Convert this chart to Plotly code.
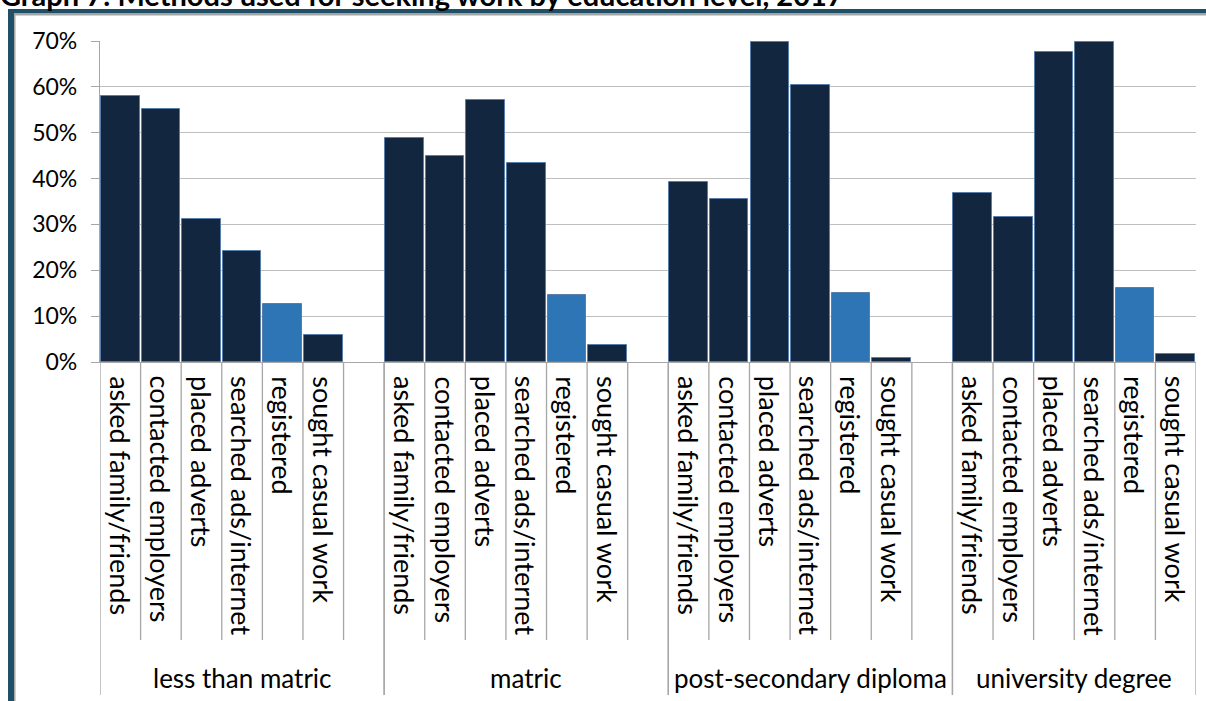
import plotly.graph_objects as go

# ---- data ----
groups = ["less than matric", "matric", "post-secondary diploma", "university degree"]
methods = ["asked family/friends", "contacted employers", "placed adverts",
           "searched ads/internet", "registered", "sought casual work"]
less_than_matric = [57.9, 55.2, 31.2, 24.2, 12.7, 5.9]
matric = [48.8, 44.9, 57.1, 43.4, 14.6, 3.7]
post_secondary = [39.2, 35.5, 69.7, 60.3, 15.0, 0.9]
university = [36.8, 31.6, 67.7, 69.7, 16.1, 1.7]
series = [less_than_matric, matric, post_secondary, university]
y_ticks = [0, 10, 20, 30, 40, 50, 60, 70]
title_text = "Graph 7: Methods used for seeking work by education level, 2017"

# ---- layout constants ----
W, H = 1206, 701
L, R, T, B = 100, 10, 41, 339
PW, PH = W - L - R, H - T - B
NAVY = "#13263F"
BLUE = "#2E75B6"
GRID = "#BFBFBF"
AXIS = "#A6A6A6"
TEAL = "#1F5068"
FONT = "Lato"

def px(x):
    return (x - L) / PW

def py(y):
    return (H - B - y) / PH

slots_per_group = len(methods) + 1
n_slots = slots_per_group * len(groups) - 1

xs, ys, cols = [], [], []
for g, vals in enumerate(series):
    for m, v in enumerate(vals):
        xs.append(g * slots_per_group + m + 0.5)
        ys.append(v)
        cols.append(BLUE if methods[m] == "registered" else NAVY)

fig = go.Figure(go.Bar(
    x=xs, y=ys, width=0.95,
    marker=dict(color=cols, line=dict(color="#5A7DAA", width=1)),
    hoverinfo="skip",
))

shapes = []
annotations = []
for g, name in enumerate(groups):
    start = g * slots_per_group
    n = len(methods) + (1 if g < len(groups) - 1 else 0)
    for k in range(n + 1):
        long_line = (k == 0) or (k == n)
        shapes.append(dict(type="line", xref="x", yref="paper",
                           x0=start + k, x1=start + k, y0=0,
                           y1=py(695 if long_line else 640),
                           line=dict(color=AXIS, width=1.3)))
    for m, meth in enumerate(methods):
        annotations.append(dict(x=start + m + 0.5, y=py(374), xref="x", yref="paper",
                                text=meth, textangle=90, showarrow=False,
                                xanchor="center", yanchor="top",
                                font=dict(family=FONT, size=27, color="#000000")))
    annotations.append(dict(x=start + n / 2, y=py(678), xref="x", yref="paper",
                            text=name, showarrow=False, xanchor="center", yanchor="middle",
                            font=dict(family=FONT, size=26, color="#000000")))

# title (partially cut off at top)
annotations.append(dict(x=px(-2), y=py(-6), xref="paper", yref="paper",
                        text="<b>" + title_text + "</b>", showarrow=False,
                        xanchor="left", yanchor="middle",
                        font=dict(family=FONT, size=29, color="#000000")))

# frame
shapes += [
    dict(type="rect", xref="paper", yref="paper", x0=px(8), x1=px(W + 5), y0=py(9), y1=py(13.5),
         fillcolor=TEAL, line=dict(width=0), layer="below"),
    dict(type="rect", xref="paper", yref="paper", x0=px(14), x1=px(W + 5), y0=py(13.5), y1=py(15.5),
         fillcolor=AXIS, line=dict(width=0), layer="below"),
    dict(type="rect", xref="paper", yref="paper", x0=px(8), x1=px(14), y0=py(9), y1=py(H + 5),
         fillcolor=TEAL, line=dict(width=0), layer="below"),
    dict(type="rect", xref="paper", yref="paper", x0=px(14), x1=px(15.5), y0=py(13.5), y1=py(H + 5),
         fillcolor=AXIS, line=dict(width=0), layer="below"),
]

fig.update_layout(
    width=W, height=H,
    margin=dict(l=L, r=R, t=T, b=B, pad=0),
    paper_bgcolor="white", plot_bgcolor="white",
    showlegend=False, bargap=0,
    shapes=shapes, annotations=annotations,
    xaxis=dict(range=[0, n_slots], showticklabels=False, ticks="", showgrid=False,
               zeroline=False, showline=True, linecolor=AXIS, linewidth=1.3, fixedrange=True),
    yaxis=dict(range=[0, 70], tickvals=y_ticks, ticktext=[f"{v}%" for v in y_ticks],
               showgrid=True, gridcolor=GRID, gridwidth=1.3, zeroline=False,
               showline=True, linecolor=AXIS, linewidth=1.3,
               ticks="outside", ticklen=8, tickcolor=AXIS, tickwidth=1.3,
               ticklabelstandoff=9,
               tickfont=dict(family=FONT, size=23, color="#000000"), fixedrange=True),
    font=dict(family=FONT),
)

fig.write_html("out.html", config={"displayModeBar": False})
